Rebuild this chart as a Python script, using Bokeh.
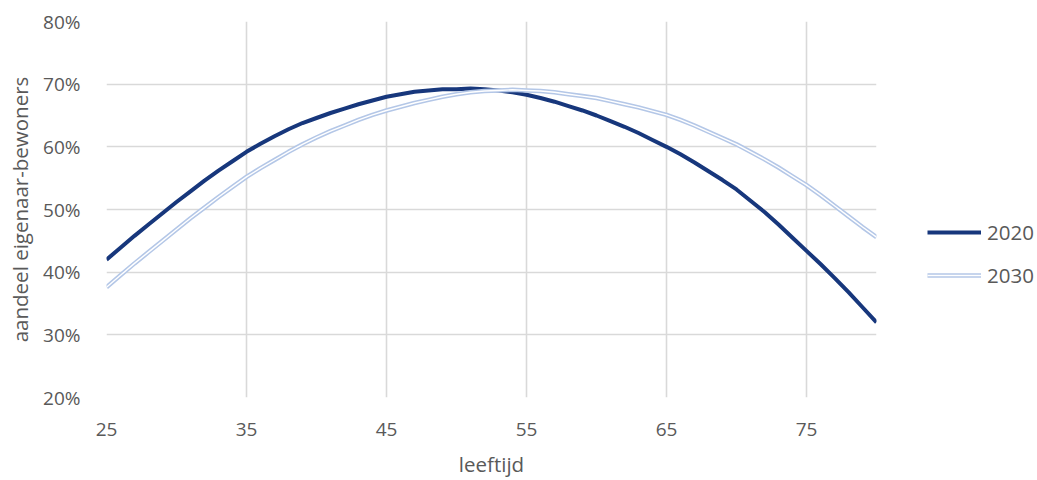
from bokeh.plotting import figure
from bokeh.models import Range1d, FixedTicker, PrintfTickFormatter, Legend, LegendItem
from bokeh.embed import file_html
from bokeh.resources import INLINE

ages = list(range(25, 81))
share_2020 = [42.0, 43.9, 45.8, 47.6, 49.4, 51.2, 52.9, 54.6, 56.2, 57.7,
              59.2, 60.5, 61.7, 62.8, 63.8, 64.6, 65.4, 66.1, 66.8, 67.4,
              68.0, 68.4, 68.8, 69.0, 69.2, 69.2, 69.3, 69.2, 69.0, 68.7,
              68.3, 67.8, 67.2, 66.5, 65.8, 65.0, 64.1, 63.2, 62.2, 61.1,
              60.0, 58.8, 57.5, 56.1, 54.7, 53.2, 51.4, 49.6, 47.6, 45.5,
              43.4, 41.3, 39.1, 36.8, 34.4, 32.0]
share_2030 = [37.6, 39.5, 41.4, 43.2, 45.0, 46.8, 48.6, 50.3, 52.0, 53.6,
              55.2, 56.6, 57.9, 59.2, 60.4, 61.5, 62.5, 63.4, 64.3, 65.1,
              65.8, 66.4, 67.0, 67.5, 68.0, 68.4, 68.7, 68.9, 69.0, 69.1,
              69.0, 68.9, 68.7, 68.4, 68.1, 67.8, 67.3, 66.8, 66.3, 65.7,
              65.1, 64.3, 63.4, 62.4, 61.4, 60.4, 59.2, 58.0, 56.7, 55.3,
              53.9, 52.3, 50.6, 48.9, 47.2, 45.6]
x_ticks = [25, 35, 45, 55, 65, 75]
y_ticks = [20, 30, 40, 50, 60, 70, 80]
series_names = ["2020", "2030"]

FONT = "Open Sans"
TXT = "#595959"

p = figure(width=1020, height=464, output_backend="svg", toolbar_location=None,
           x_range=Range1d(25, 80), y_range=Range1d(20, 80),
           frame_width=770, frame_height=376,
           min_border_left=106, min_border_top=21, min_border_right=144, min_border_bottom=67)
p.outline_line_color = None
p.background_fill_color = "white"

for ax in (p.xaxis[0], p.yaxis[0]):
    ax.axis_line_color = None
    ax.major_tick_line_color = None
    ax.minor_tick_line_color = None
    ax.major_label_text_font = FONT
    ax.major_label_text_font_size = "19px"
    ax.major_label_text_color = TXT
    ax.axis_label_text_font = FONT
    ax.axis_label_text_font_size = "20.5px"
    ax.axis_label_text_font_style = "normal"
    ax.axis_label_text_color = TXT

p.xaxis.ticker = FixedTicker(ticks=x_ticks)
p.yaxis.ticker = FixedTicker(ticks=y_ticks)
p.yaxis.formatter = PrintfTickFormatter(format="%d%%")
p.xaxis.axis_label = "leeftijd"
p.yaxis.axis_label = "aandeel eigenaar-bewoners"
p.xaxis.major_label_standoff = 19
p.yaxis.major_label_standoff = 20
p.xaxis.axis_label_standoff = 11
p.yaxis.axis_label_standoff = 6

p.xgrid.ticker = FixedTicker(ticks=x_ticks)
p.ygrid.ticker = FixedTicker(ticks=y_ticks)
for g in (p.xgrid[0], p.ygrid[0]):
    g.grid_line_color = "#d9d9d9"
    g.grid_line_width = 1.6

r1 = p.line(ages, share_2020, line_color="#17377c", line_width=4)
r2a = p.line(ages, share_2030, line_color="#b4c7e7", line_width=4.5)
r2b = p.line(ages, share_2030, line_color="white", line_width=1.4)

legend = Legend(items=[LegendItem(label=series_names[0], renderers=[r1]),
                       LegendItem(label=series_names[1], renderers=[r2a, r2b])],
                location=(51, 108), orientation="vertical",
                border_line_color=None, background_fill_alpha=0,
                label_text_font=FONT, label_text_font_size="20.5px",
                label_text_color=TXT, glyph_width=54, glyph_height=20,
                spacing=15, label_standoff=6, padding=0, margin=0)
p.add_layout(legend, "right")

open("out.html", "w").write(file_html(p, INLINE))
